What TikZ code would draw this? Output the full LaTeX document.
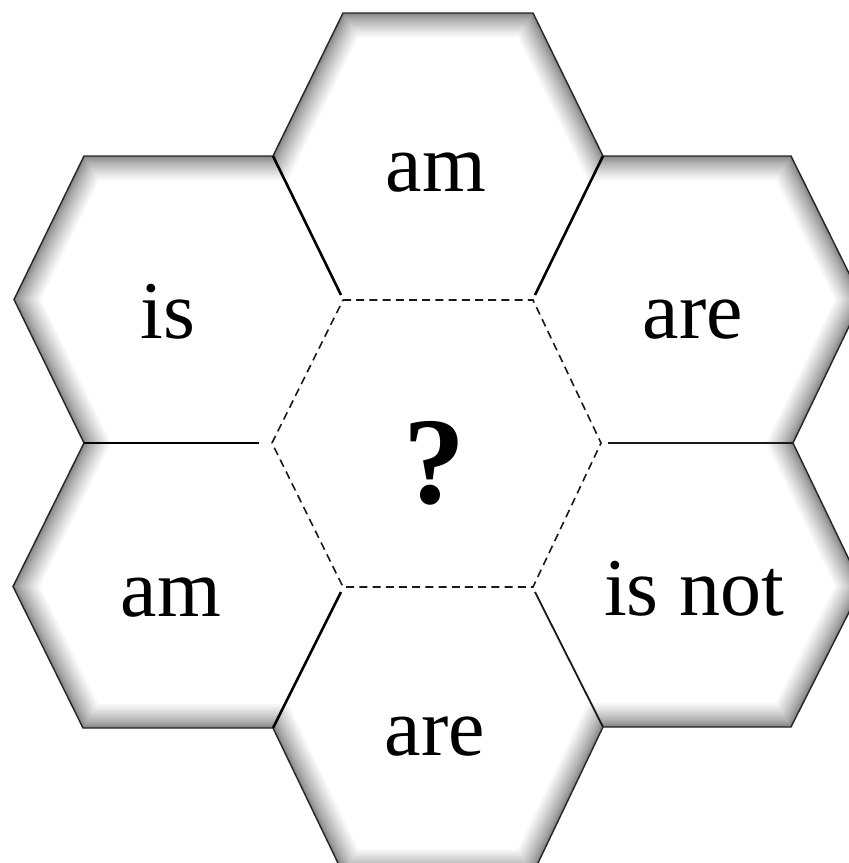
\documentclass[tikz,border=0pt]{standalone}
\usepackage{fontspec}
\setmainfont{Liberation Serif}
\begin{document}
\begin{tikzpicture}[x=0.5pt,y=-0.5pt,
  outline/.style={draw=black!85, line width=0.7pt, line join=miter},
  innerline/.style={draw=black, line width=1.3pt},
  innerthin/.style={draw=black!90, line width=0.9pt},
  centrehex/.style={draw=black!90, line width=0.8pt, dash pattern=on 4pt off 2.6pt},
  word/.style={font=\fontsize{41}{48}\selectfont, anchor=base, inner sep=0pt},
  qmark/.style={font=\fontsize{62}{70}\selectfont\bfseries, anchor=base, inner sep=0pt},
  shadestroke/.style={draw=black, draw opacity=0.035, line join=miter}]
\useasboundingbox (0,0) rectangle (849,863);
\fill[white] (0,0) rectangle (849,863);
% outer outline of the cluster
\coordinate (o1) at (343,13);
\coordinate (o2) at (533,13);
\coordinate (o3) at (603,156);
\coordinate (o4) at (791,156);
\coordinate (o5) at (862,299.5);
\coordinate (o6) at (793,443);
\coordinate (o7) at (862,586.5);
\coordinate (o8) at (791,727);
\coordinate (o9) at (603,727);
\coordinate (o10) at (533,873.5);
\coordinate (o11) at (343,873.5);
\coordinate (o12) at (273,728);
\coordinate (o13) at (83,728);
\coordinate (o14) at (13,586.5);
\coordinate (o15) at (84,443);
\coordinate (o16) at (14,299.5);
\coordinate (o17) at (84,156);
\coordinate (o18) at (273,156);
% centre hexagon
\coordinate (c1) at (343,300);
\coordinate (c2) at (533,300);
\coordinate (c3) at (601,443);
\coordinate (c4) at (533,587);
\coordinate (c5) at (343,587);
\coordinate (c6) at (272,443);
% inner ends of the shared edges
\coordinate (e1) at (341,295);
\coordinate (e2) at (535,295);
\coordinate (e3) at (259,443);
\coordinate (e4) at (608,443);
\coordinate (e5) at (341,592);
\coordinate (e6) at (535,592);
% inner shadow along the outline
\begin{scope}
\clip (o1) -- (o2) -- (o3) -- (o4) -- (o5) -- (o6) -- (o7) -- (o8) -- (o9) -- (o10) -- (o11) -- (o12) -- (o13) -- (o14) -- (o15) -- (o16) -- (o17) -- (o18) -- cycle;
\foreach \k in {1,...,20}{
  \pgfmathsetmacro\w{24*(\k/20)^2}
  \draw[shadestroke, line width=\w pt] (o1) -- (o2) -- (o3) -- (o4) -- (o5) -- (o6) -- (o7) -- (o8) -- (o9) -- (o10) -- (o11) -- (o12) -- (o13) -- (o14) -- (o15) -- (o16) -- (o17) -- (o18) -- cycle;
}
\end{scope}
\draw[outline] (o1) -- (o2) -- (o3) -- (o4) -- (o5) -- (o6) -- (o7) -- (o8) -- (o9) -- (o10) -- (o11) -- (o12) -- (o13) -- (o14) -- (o15) -- (o16) -- (o17) -- (o18) -- cycle;
% shared edges
\draw[innerline] (o18) -- (e1);
\draw[innerline] (o3) -- (e2);
\draw[innerline] (o15) -- (e3);
\draw[innerthin] (o6) -- (e4);
\draw[innerline] (o12) -- (e5);
\draw[innerthin] (o9) -- (e6);
% centre
\draw[centrehex] (c1) -- (c2) -- (c3) -- (c4) -- (c5) -- (c6) -- cycle;
% labels
\node[word] (t1) at (436,191) {am};
\node[word] (t2) at (168,338) {is};
\node[word] (t3) at (693,338) {are};
\node[qmark] (t0) at (434,503) {?};
\node[word] (t4) at (171,616) {am};
\node[word] (t5) at (694,615) {is not};
\node[word] (t6) at (435,755) {are};
\end{tikzpicture}
\end{document}
